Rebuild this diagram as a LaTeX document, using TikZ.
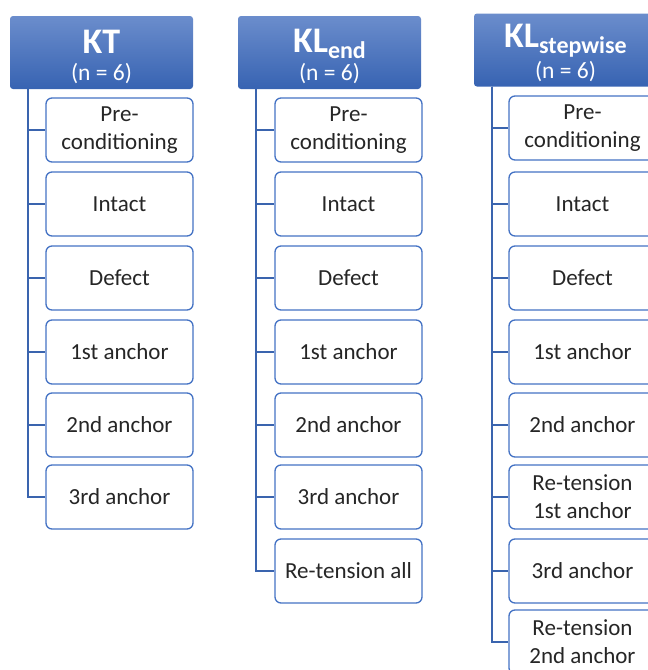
\documentclass[tikz,border=0pt]{standalone}
\usepackage{fontspec}
\setmainfont{Carlito}
\definecolor{hdtop}{HTML}{6B8DCC}
\definecolor{hdbot}{HTML}{3763B2}
\definecolor{edge}{HTML}{4472C4}
\definecolor{spinec}{HTML}{3A64AE}
\definecolor{txt}{HTML}{262626}
\tikzset{
  hdr/.style={rounded corners=3pt, top color=hdtop, bottom color=hdbot, draw=none,
    minimum width=183pt, minimum height=73pt, inner sep=0pt},
  ttl/.style={text=white, font=\fontsize{36}{38}\selectfont\bfseries, inner sep=0pt, anchor=base},
  cnt/.style={text=white, font=\fontsize{23.5}{25}\selectfont, inner sep=0pt, anchor=base},
  kid/.style={draw=edge, line width=1.3pt, rounded corners=6pt, fill=white, text=txt,
    minimum width=147pt, minimum height=64pt, align=center, inner sep=0pt,
    font=\fontsize{23}{28}\selectfont},
  spine/.style={draw=spinec, line width=1.8pt}
}
\newcommand{\sbs}[1]{\raisebox{-6pt}{\fontsize{24}{24}\selectfont #1}}
\begin{document}
\begin{tikzpicture}[x=1pt,y=-1pt]
\useasboundingbox (0,0) rectangle (648,670);
\clip (0,0) rectangle (648,670);
% column 1: KT
\node[hdr] (h1) at (101.5,52.5) {};
\node[ttl] (t1) at (101.5,53) {KT};
\node[cnt] (n1) at (101.5,80) {(n = 6)};
\node[kid] (a1) at (119.5,130) {Pre-\\conditioning};
\node[kid] (a2) at (119.5,204) {Intact};
\node[kid] (a3) at (119.5,278) {Defect};
\node[kid] (a4) at (119.5,352) {1st anchor};
\node[kid] (a5) at (119.5,425) {2nd anchor};
\node[kid] (a6) at (119.5,497) {3rd anchor};
\foreach \k in {a1,a2,a3,a4,a5,a6}
  \draw[spine] ([xshift=18pt]h1.south west) |- (\k.west);
% column 2: KL_end
\node[hdr] (h2) at (329.5,52.5) {};
\node[ttl] (t2) at (329.5,52) {KL\sbs{end}};
\node[cnt] (n2) at (329.5,80) {(n = 6)};
\node[kid] (b1) at (348.5,130) {Pre-\\conditioning};
\node[kid] (b2) at (348.5,204) {Intact};
\node[kid] (b3) at (348.5,278) {Defect};
\node[kid] (b4) at (348.5,352) {1st anchor};
\node[kid] (b5) at (348.5,425) {2nd anchor};
\node[kid] (b6) at (348.5,497) {3rd anchor};
\node[kid] (b7) at (348.5,571) {Re-tension all};
\foreach \k in {b1,b2,b3,b4,b5,b6,b7}
  \draw[spine] ([xshift=18pt]h2.south west) |- (\k.west);
% column 3: KL_stepwise
\node[hdr] (h3) at (565.5,50) {};
\node[ttl] (t3) at (565.5,47) {KL\sbs{stepwise}};
\node[cnt] (n3) at (565.5,78) {(n = 6)};
\node[kid] (c1) at (582.5,128) {Pre-\\conditioning};
\node[kid] (c2) at (582.5,204) {Intact};
\node[kid] (c3) at (582.5,278) {Defect};
\node[kid] (c4) at (582.5,352) {1st anchor};
\node[kid] (c5) at (582.5,425) {2nd anchor};
\node[kid] (c6) at (582.5,497) {Re-tension\\1st anchor};
\node[kid] (c7) at (582.5,571) {3rd anchor};
\node[kid] (c8) at (582.5,642) {Re-tension\\2nd anchor};
\foreach \k in {c1,c2,c3,c4,c5,c6,c7,c8}
  \draw[spine] ([xshift=18pt]h3.south west) |- (\k.west);
\end{tikzpicture}
\end{document}
